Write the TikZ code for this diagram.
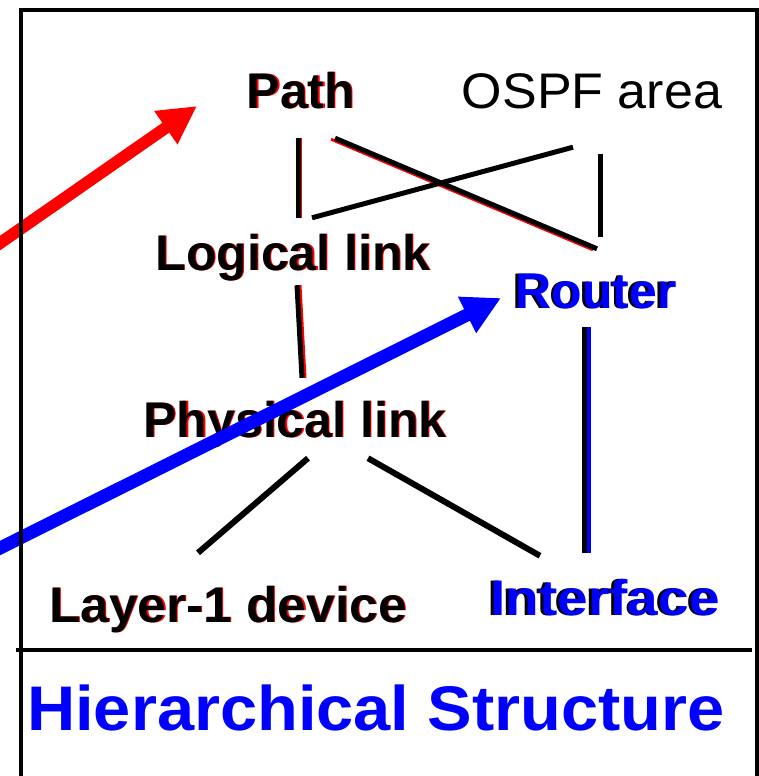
\documentclass[tikz,border=0pt]{standalone}
\usepackage{fontspec}
\setmainfont{Liberation Sans}
\usetikzlibrary{arrows.meta}
% text with a thin coloured copy beside it
\newcommand{\redghost}[1]{\rlap{\kern1.2pt\textcolor{red}{#1}}#1}
\newcommand{\blueghost}[1]{\rlap{\kern-2.5pt #1}\textcolor{blue}{#1}}
\tikzset{
	every picture/.style={
		>=latex
}}

\begin{document}
\begin{tikzpicture}[x=1pt,y=-1pt]
\tikzstyle{term}=[inner sep=0pt, text height=36pt, text depth=0pt, anchor=base, font=\fontsize{50}{60}\selectfont\bfseries]
\tikzstyle{link}=[line width=5pt]
\tikzstyle{ghost}=[line width=3pt]
\tikzstyle{pointer}=[line width=13pt, -{Triangle[length=38pt,width=38pt]}]
\useasboundingbox (0,0) rectangle (759,776);
\clip (0,0) rectangle (759,776);
\node[term] (path) at (301,108) {\redghost{Path}};
\node[term, font=\fontsize{50}{60}\selectfont] (ospf) at (592,108) {\scalebox{1.04}[1]{OSPF area}};
\node[term] (logical) at (293,270) {\redghost{Logical link}};
\node[term] (router) at (596,308) {\blueghost{Router}};
\node[term] (physical) at (295,437) {\redghost{Physical link}};
\node[term] (layer) at (228,622) {\scalebox{1.03}[1]{\redghost{Layer-1 device}}};
\node[term] (iface) at (605,615) {\scalebox{1.1}[1]{\blueghost{Interface}}};
\node[anchor=base, inner sep=0pt, text=blue, font=\fontsize{63}{70}\selectfont\bfseries] (title) at (376,730) {\scalebox{1.06}[1]{Hierarchical Structure}};
% links
\draw[ghost, red, transform canvas={shift={(2pt,0pt)}}] ([shift={(-3,30)}]path.south) -- ([shift={(5,-16)}]logical.north);
\draw[link] ([shift={(-3,30)}]path.south) -- ([shift={(5,-16)}]logical.north);
\draw[ghost, red, transform canvas={shift={(-4pt,-1pt)}}] ([shift={(34,30)}]path.south) -- ([shift={(1,-23)}]router.north);
\draw[link] ([shift={(34,30)}]path.south) -- ([shift={(1,-23)}]router.north);
\draw[link] ([shift={(19,-16)}]logical.north) -- ([shift={(-19,39)}]ospf.south);
\draw[link] ([shift={(8,46)}]ospf.south) -- ([shift={(4,-35)}]router.north);
\draw[ghost, red, transform canvas={shift={(3pt,0pt)}}] ([shift={(4,15)}]logical.south) -- ([shift={(7,-23)}]physical.north);
\draw[link] ([shift={(4,15)}]logical.south) -- ([shift={(7,-23)}]physical.north);
\draw[link, line width=6pt] ([shift={(13,21)}]physical.south) -- ([shift={(-30,-33)}]layer.north);
\draw[link, line width=6pt] ([shift={(73,21)}]physical.south) -- ([shift={(-65,-23)}]iface.north);
\draw[link] ([shift={(-12,19)}]router.south) -- ([shift={(-21,-26)}]iface.north);
\draw[ghost, blue, line width=4pt, transform canvas={shift={(4.5pt,0pt)}}] ([shift={(-12,19)}]router.south) -- ([shift={(-21,-26)}]iface.north);
% pointers from outside
\coordinate (redtail) at (-20,257);
\coordinate (redtip) at (197,106);
\coordinate (bluetail) at (-20,558);
\coordinate (bluetip) at (501,298);
\draw[pointer, red, line width=12pt] (redtail) -- (redtip);
\draw[pointer, blue] (bluetail) -- (bluetip);
% frame
\draw[line width=4.5pt] (21,790) -- (21,10) -- (757,10) -- (757,790);
\draw[line width=4.5pt] (16,650) -- (752,650);
\end{tikzpicture}
\end{document}
